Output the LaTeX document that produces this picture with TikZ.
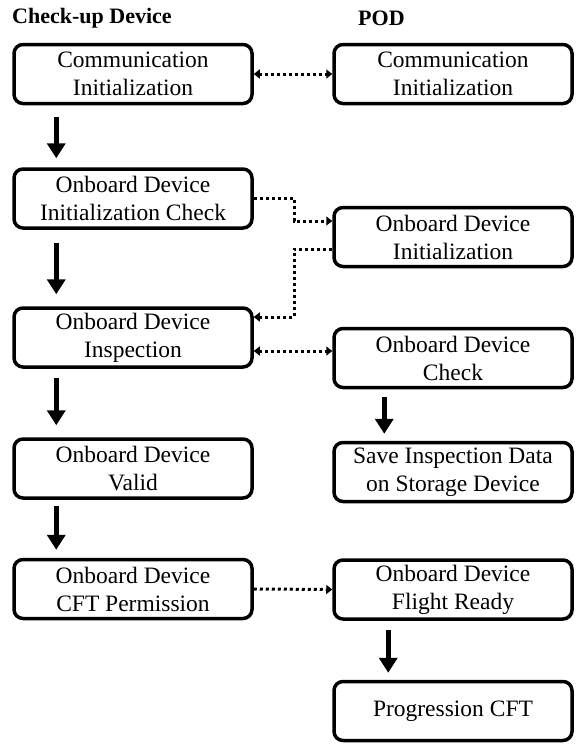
\documentclass[tikz,border=0pt]{standalone}
\usepackage{fontspec}
\setmainfont{Liberation Serif}
\usetikzlibrary{arrows.meta,calc}

\begin{document}
\begin{tikzpicture}[x=1pt,y=-1pt,
  box/.style={draw, line width=3.5pt, rounded corners=9pt,
    minimum width=238pt, minimum height=59pt, align=center, inner sep=0pt,
    font=\fontsize{23.5}{28}\selectfont},
  flow/.style={line width=5pt, -{Triangle[width=18pt,length=15pt]}},
  link/.style={line width=3pt, dash pattern=on 3pt off 3pt,
    -{Triangle[width=9pt,length=6pt]}},
  link2/.style={line width=3pt, dash pattern=on 3pt off 3pt,
    {Triangle[width=9pt,length=6pt]}-{Triangle[width=9pt,length=6pt]}},
  title/.style={font=\fontsize{22}{26}\selectfont\bfseries, inner sep=0pt, anchor=west}]

\useasboundingbox (0,0) rectangle (581,744);

% column headings
\node[title] (hl) at (12,18) {Check-up Device};
\node[title] (hr) at (358,18) {POD};

% check-up device column
\node[box] (L1) at (133,74)    {Communication\\Initialization};
\node[box] (L2) at (133,198.5) {Onboard Device\\Initialization Check};
\node[box] (L3) at (133,337.5) {Onboard Device\\Inspection};
\node[box] (L4) at (133,468.5) {Onboard Device\\Valid};
\node[box] (L5) at (133,589)   {Onboard Device\\CFT Permission};

% POD column
\node[box] (R1) at (453,74)    {Communication\\Initialization};
\node[box] (R2) at (453,237)   {Onboard Device\\Initialization};
\node[box] (R3) at (453,358)   {Onboard Device\\Check};
\node[box] (R4) at (453,472)   {Save Inspection Data\\on Storage Device};
\node[box] (R5) at (453,589.5) {Onboard Device\\Flight Ready};
\node[box] (R6) at (453,711)   {Progression CFT};

% sequence arrows
\draw[flow] ([xshift=44pt,yshift=-12pt]L1.south west) -- ([xshift=44pt,yshift=9pt]L2.north west);
\draw[flow] ([xshift=44pt,yshift=-13pt]L2.south west) -- ([xshift=44pt,yshift=12pt]L3.north west);
\draw[flow] ([xshift=44pt,yshift=-9pt]L3.south west) -- ([xshift=44pt,yshift=12pt]L4.north west);
\draw[flow] ([xshift=44pt,yshift=-6pt]L4.south west) -- ([xshift=44pt,yshift=8pt]L5.north west);
\draw[flow] ([xshift=52pt,yshift=-8pt]R3.south west) -- ([xshift=52pt,yshift=7pt]R4.north west);
\draw[flow] ([xshift=56pt,yshift=-9pt]R5.south west) -- ([xshift=56pt,yshift=7pt]R6.north west);

% message links between the two sides
\coordinate (j1) at (294,221);
\coordinate (j2) at (294,249);
\coordinate (k)  at (294,317);
\coordinate (m)  at (294,351);
\draw[link2] (L1.east) -- (R1.west);
\draw[link] (L2.east) -| (j1) -- (j1 -| R2.west);
\draw[link] (j2 -| R2.west) -- (j2) -- (k) -- (k -| L3.east);
\draw[link2] (m -| L3.east) -- (m -| R3.west);
\draw[link] (L5.east) -- (R5.west);
\end{tikzpicture}
\end{document}
